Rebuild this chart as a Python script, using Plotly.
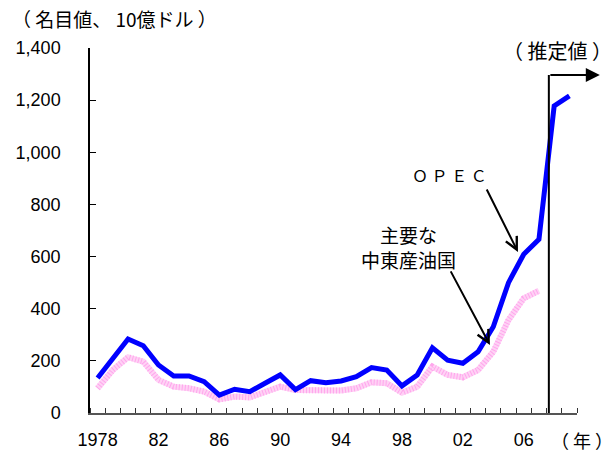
import plotly.graph_objects as go

# Years on the horizontal axis
years = list(range(1978, 2010))

# OPEC nominal GDP (billion USD); 2008-2009 are estimates
opec = [134, 210, 284, 258, 184, 142, 142, 120, 69, 91, 82, 114, 146, 90,
        124, 116, 123, 139, 174, 165, 104, 146, 250, 203, 191, 235, 331, 500,
        609, 666, 1178, 1216]

# Major Middle East oil producers (billion USD), through 2007
mideast_years = list(range(1978, 2008))
mideast = [95, 165, 214, 197, 127, 101, 95, 82, 52, 63, 60, 82, 101, 88,
           88, 84, 86, 95, 118, 114, 78, 101, 178, 146, 137, 165, 235, 357,
           440, 469]

x_labels = [1978, 1982, 1986, 1990, 1994, 1998, 2002, 2006]
x_label_text = ["1978", "82", "86", "90", "94", "98", "02", "06"]

estimate_start = 2007.65
estimate_top = 1296
arrow_end = 2011.0

jp = "Noto Sans CJK JP"
num_font = "Liberation Sans, Arial, " + jp

fig = go.Figure()

# Hatched pink line: light base with darker short dashes on top
fig.add_trace(go.Scatter(x=mideast_years, y=mideast, mode="lines",
                         line=dict(color="#ffd2f5", width=6),
                         showlegend=False, hoverinfo="skip"))
fig.add_trace(go.Scatter(x=mideast_years, y=mideast, mode="lines",
                         line=dict(color="#ffa6ec", width=6, dash="1px,2px"),
                         showlegend=False, hoverinfo="skip"))

fig.add_trace(go.Scatter(x=years, y=opec, mode="lines",
                         line=dict(color="#0000ff", width=5),
                         showlegend=False))

# Estimate boundary: vertical line and arrow to the right
fig.add_shape(type="line", xref="x", yref="y",
              x0=estimate_start, x1=estimate_start, y0=0, y1=estimate_top,
              line=dict(color="black", width=2))
fig.add_annotation(x=arrow_end, y=estimate_top,
                   ax=estimate_start, axref="x", ay=estimate_top, ayref="y",
                   text="", showarrow=True, arrowhead=2, arrowsize=1.4,
                   arrowwidth=2, arrowcolor="black")
fig.add_annotation(x=2008.2, y=1390, text="（ 推定値 ）", showarrow=False,
                   xanchor="center", yanchor="middle",
                   font=dict(family=jp, size=20, color="black"))

# Series labels with arrows
fig.add_annotation(x=2001.1, y=913, text="Ｏ Ｐ Ｅ Ｃ", showarrow=False,
                   xanchor="center", yanchor="middle",
                   font=dict(family=jp, size=16, color="black"))
fig.add_annotation(x=2005.62, y=618, ax=2003.52, ay=863, axref="x", ayref="y",
                   text="", showarrow=True, arrowhead=5, arrowsize=1.2,
                   arrowwidth=2, arrowcolor="black")
fig.add_annotation(x=1998.4, y=637, text="主要な<br>中東産油国", showarrow=False,
                   align="center", xanchor="center", yanchor="middle",
                   font=dict(family=jp, size=19, color="black"))
fig.add_annotation(x=2003.78, y=261, ax=2001.15, ay=549, axref="x", ayref="y",
                   text="", showarrow=True, arrowhead=5, arrowsize=1.2,
                   arrowwidth=2, arrowcolor="black")

# Axis titles
fig.add_annotation(x=-0.165, xref="paper", y=1.082, yref="paper",
                   xanchor="left", yanchor="middle",
                   text="（ 名目値、 10億ドル ）", showarrow=False,
                   font=dict(family=jp, size=19, color="black"))
fig.add_annotation(x=1.01, xref="paper", y=-0.074, yref="paper",
                   xanchor="center", yanchor="middle",
                   text="（ 年 ）", showarrow=False,
                   font=dict(family=jp, size=18, color="black"))

fig.update_xaxes(range=[1977.5, 2009.5], tickvals=x_labels,
                 ticktext=x_label_text, ticks="", showgrid=False,
                 zeroline=False, showline=True, linecolor="#555555",
                 linewidth=2, automargin=False,
                 minor=dict(tick0=1977.5, dtick=1, ticks="inside",
                            ticklen=5, tickcolor="#333333", showgrid=False),
                 tickfont=dict(family=num_font, size=18, color="black"),
                 ticklabelstandoff=9)
fig.update_yaxes(range=[0, 1400], dtick=200, tickformat=",",
                 ticks="inside", ticklen=6, tickcolor="black",
                 showgrid=False, zeroline=False, showline=True,
                 linecolor="black", linewidth=1.5, automargin=False,
                 tickfont=dict(family=num_font, size=18, color="black"),
                 ticklabelstandoff=24)

fig.update_layout(width=612, height=453,
                  margin=dict(l=90, r=35, t=48, b=40),
                  paper_bgcolor="white", plot_bgcolor="white",
                  showlegend=False)

fig.write_html("out.html")
